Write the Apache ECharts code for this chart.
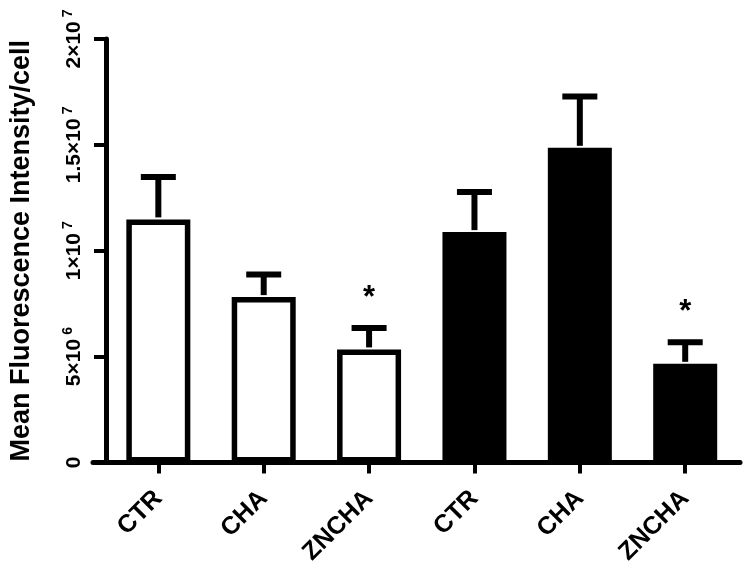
<!DOCTYPE html>
<html>
<head>
<meta charset="utf-8">
<script src="https://cdn.jsdelivr.net/npm/echarts@6/dist/echarts.min.js"></script>
<style>
  html, body { margin: 0; padding: 0; background: #fff; }
  #chart { width: 750px; height: 573px; }
</style>
</head>
<body>
<div id="chart"></div>
<script>
// values
const categories = ['CTR', 'CHA', 'ZNCHA', 'CTR', 'CHA', 'ZNCHA']
const groups = ['open', 'open', 'open', 'filled', 'filled', 'filled']
const meanValues = [11.48e6, 7.81e6, 5.34e6, 10.88e6, 14.86e6, 4.66e6]
const semValues = [2.0e6, 1.07e6, 1.01e6, 1.89e6, 2.43e6, 1.02e6]
const significance = ['', '', '*', '', '', '*']
const yTicks = [0, 5e6, 1e7, 1.5e7, 2e7]
const yTickBase = ['0', '5×10', '1×10', '1.5×10', '2×10']
const yTickExp = ['', '6', '7', '7', '7']

const FONT = 'Liberation Sans'
const NARROW = '"Liberation Sans Narrow", "Liberation Sans"'

const chart = echarts.init(document.getElementById('chart'), null, { renderer: 'canvas' })

function groupData(name) {
  const out = []
  meanValues.forEach((v, i) => {
    if (groups[i] === name) out.push([i, v])
  })
  return out
}

const errData = meanValues.map((v, i) => [i, v, v + semValues[i], significance[i]])

chart.setOption({
  backgroundColor: '#fff',
  animation: false,
  grid: {
    left: 92,
    right: 10,
    top: 39,
    bottom: 110.5
  },
  xAxis: {
    type: 'value',
    min: -0.62,
    max: 5.52,
    splitLine: { show: false },
    axisLine: { onZero: false, lineStyle: { color: '#000', width: 5 } },
    axisTick: {
      customValues: [0, 1, 2, 3, 4, 5],
      length: 11,
      lineStyle: { color: '#000', width: 4 }
    },
    axisLabel: {
      customValues: [0, 1, 2, 3, 4, 5],
      rotate: 45,
      margin: 32,
      color: '#000',
      fontFamily: FONT,
      fontWeight: 'bold',
      fontSize: 25,
      formatter: v => categories[Math.round(v)]
    }
  },
  yAxis: {
    type: 'value',
    min: 0,
    max: 2e7,
    interval: 5e6,
    offset: -13,
    splitLine: { show: false },
    name: 'Mean Fluorescence Intensity/cell',
    nameLocation: 'middle',
    nameGap: 71,
    nameTextStyle: {
      color: '#000',
      fontFamily: FONT,
      fontWeight: 'bold',
      fontSize: 27
    },
    axisLine: { onZero: false, lineStyle: { color: '#000', width: 5 } },
    axisTick: { length: 12, lineStyle: { color: '#000', width: 4 } },
    axisLabel: {
      rotate: 90,
      margin: 21,
      color: '#000',
      fontFamily: NARROW,
      fontWeight: 'bold',
      fontSize: 21,
      formatter: v => {
        const i = yTicks.indexOf(v)
        if (i < 0) return ''
        return yTickExp[i] ? '{base|' + yTickBase[i] + '}{sup|' + yTickExp[i] + '}' : '{base|' + yTickBase[i] + '}'
      },
      rich: {
        base: { fontFamily: NARROW, fontWeight: 'bold', fontSize: 21, lineHeight: 24, verticalAlign: 'bottom', color: '#000' },
        sup: { fontFamily: NARROW, fontWeight: 'bold', fontSize: 14, lineHeight: 14, verticalAlign: 'top', padding: [0, 0, 0, 4], color: '#000' }
      }
    }
  },
  series: [
    {
      name: 'open',
      type: 'bar',
      barWidth: 64,
      barGap: '-100%',
      data: groupData('open'),
      itemStyle: { color: '#fff', borderColor: '#000', borderWidth: 5.5 }
    },
    {
      name: 'filled',
      type: 'bar',
      barWidth: 64,
      barGap: '-100%',
      data: groupData('filled'),
      itemStyle: { color: '#000', borderColor: '#000', borderWidth: 5.5 }
    },
    {
      // SEM error bars (upper only) + significance marks
      type: 'custom',
      data: errData,
      z: 5,
      renderItem: (params, api) => {
        const x = api.value(0)
        const base = api.coord([x, api.value(1)])
        const top = api.coord([x, api.value(2)])
        const mark = significance[params.dataIndex]
        const children = [
          { type: 'rect', shape: { x: base[0] - 3, y: top[1], width: 6, height: base[1] - top[1] - 2 }, style: { fill: '#000' } },
          { type: 'rect', shape: { x: base[0] - 17.5, y: top[1] - 3, width: 35, height: 6 }, style: { fill: '#000' } }
        ]
        if (mark) {
          children.push({
            type: 'text',
            style: {
              text: mark,
              x: base[0],
              y: top[1] - 30,
              align: 'center',
              verticalAlign: 'middle',
              fill: '#000',
              font: 'bold 31px ' + FONT
            }
          })
        }
        return { type: 'group', children: children }
      }
    }
  ]
})
</script>
</body>
</html>
